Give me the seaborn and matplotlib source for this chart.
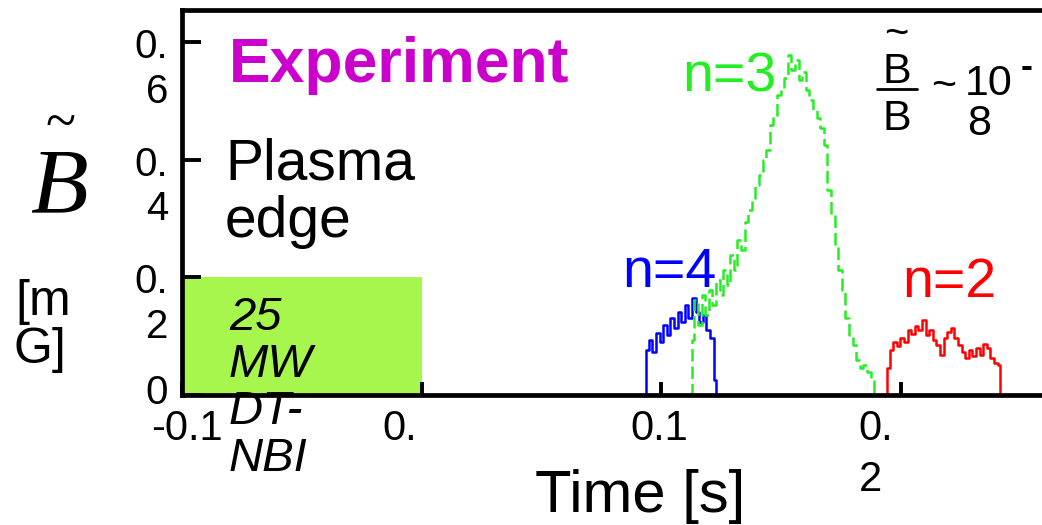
import numpy as np
import pandas as pd
import matplotlib
matplotlib.use('Agg')
import matplotlib.pyplot as plt
import matplotlib.transforms as mtrans
from matplotlib.lines import Line2D
import seaborn as sns

# ---------------- data ----------------
n4_time = [0.0935, 0.094, 0.0955, 0.097, 0.0985, 0.100, 0.1015, 0.103, 0.1045, 0.106,
           0.1075, 0.109, 0.1105, 0.112, 0.1135, 0.115, 0.1165, 0.118, 0.1195, 0.121,
           0.1225, 0.123]
n4_amp = [0.0, 0.077, 0.094, 0.073, 0.105, 0.090, 0.119, 0.102, 0.131, 0.114,
          0.141, 0.124, 0.153, 0.131, 0.165, 0.141, 0.124, 0.136, 0.111, 0.097,
          0.026, 0.0]

n3_time = [0.1125, 0.113, 0.1145, 0.116, 0.1175, 0.119, 0.1205, 0.122, 0.1235, 0.125,
           0.1265, 0.128, 0.1295, 0.131, 0.1325, 0.134, 0.1355, 0.137, 0.1385, 0.140,
           0.1415, 0.143, 0.1445, 0.146, 0.1475, 0.149, 0.1505, 0.152, 0.1535, 0.155,
           0.1565, 0.158, 0.1595, 0.161, 0.1625, 0.164, 0.1655, 0.167, 0.1685, 0.170,
           0.1715, 0.173, 0.1745, 0.176, 0.1775, 0.179, 0.1805, 0.182, 0.1835, 0.185,
           0.1865, 0.188, 0.1895]
n3_amp = [0.0, 0.094, 0.162, 0.119, 0.170, 0.136, 0.179, 0.153, 0.196, 0.170,
          0.213, 0.187, 0.238, 0.213, 0.264, 0.247, 0.294, 0.315, 0.332, 0.357,
          0.374, 0.400, 0.417, 0.459, 0.476, 0.510, 0.522, 0.539, 0.578, 0.553,
          0.570, 0.536, 0.549, 0.519, 0.502, 0.485, 0.471, 0.454, 0.425, 0.349,
          0.306, 0.255, 0.213, 0.179, 0.131, 0.102, 0.085, 0.060, 0.046, 0.051,
          0.039, 0.029, 0.0]

n2_time = [0.194, 0.1945, 0.196, 0.1975, 0.199, 0.2005, 0.202, 0.2035, 0.205, 0.2065,
           0.208, 0.2095, 0.211, 0.2125, 0.214, 0.2155, 0.217, 0.2185, 0.220, 0.2215,
           0.223, 0.2245, 0.226, 0.2275, 0.229, 0.2305, 0.232, 0.2335, 0.235, 0.2365,
           0.238, 0.2395, 0.241, 0.2415]
n2_amp = [0.0, 0.046, 0.077, 0.090, 0.083, 0.097, 0.090, 0.111, 0.104, 0.117,
          0.111, 0.128, 0.102, 0.111, 0.094, 0.085, 0.068, 0.097, 0.107, 0.114,
          0.097, 0.085, 0.073, 0.063, 0.077, 0.066, 0.080, 0.068, 0.087, 0.080,
          0.063, 0.054, 0.051, 0.0]

nbi_window = [-0.1, 0.0]
nbi_level = 0.2

x_ticks = [-0.1, 0.0, 0.1, 0.2]
x_tick_labels = ['-0.1', '0.', '0.1', '0.\n2']
y_ticks = [0.0, 0.2, 0.4, 0.6]
y_tick_labels = ['0', '0.\n2', '0.\n4', '0.\n6']

# ---------------- figure ----------------
sns.set_style('white')
plt.rcParams['font.family'] = ['Liberation Sans', 'DejaVu Sans']
plt.rcParams['text.color'] = 'black'
plt.rcParams['axes.labelcolor'] = 'black'
plt.rcParams['xtick.color'] = 'black'
plt.rcParams['ytick.color'] = 'black'

W, H = 1042, 525
fig = plt.figure(figsize=(W / 100, H / 100), dpi=100)
ax = fig.add_axes([182 / W, 1 - 395 / H, 1 - 182 / W, (395 - 10) / H])


def P(x, y):
    return x / W, 1 - y / H


ax.fill_between(nbi_window, 0, nbi_level, color='#a6f64e', lw=0, zorder=0.5)

traces = [
    (n4_time, n4_amp, '#0000ff', '-'),
    (n3_time, n3_amp, '#22ee22', (0, (5, 2))),
    (n2_time, n2_amp, '#ff0000', '-'),
]
for t, b, col, ls in traces:
    df = pd.DataFrame({'t': t, 'b': b})
    sns.lineplot(data=df, x='t', y='b', ax=ax, color=col, lw=1.8,
                 drawstyle='steps-mid', linestyle=ls)

ax.set_xlim(-0.1, 0.2588)
ax.set_ylim(0, 0.655)
ax.set_ylabel('')

for side in ['left', 'bottom', 'top']:
    ax.spines[side].set_linewidth(3.4)
    ax.spines[side].set_color('black')
ax.spines['right'].set_visible(False)

ax.set_xticks(x_ticks)
ax.set_xticklabels(x_tick_labels, fontsize=30, multialignment='left', linespacing=1.36,
                   color='black')
ax.set_yticks(y_ticks)
ax.set_yticklabels(y_tick_labels, fontsize=29, linespacing=1.22, color='black')
ax.tick_params(axis='both', which='both', direction='in', width=2.8, color='black',
               bottom=True, left=True, top=False, right=False)
ax.tick_params(axis='x', length=9.4, pad=10.0)
ax.tick_params(axis='y', length=13.7, pad=10)

for lab, dx in zip(ax.get_xticklabels(), [5, -22, -2, -25]):
    lab.set_transform(lab.get_transform() +
                      mtrans.ScaledTranslation(dx / 100, 0, fig.dpi_scale_trans))
for i, lab in enumerate(ax.get_yticklabels()):
    if i == 0:
        lab.set_va('center')
        lab.set_transform(lab.get_transform() +
                          mtrans.ScaledTranslation(0, 2 / 100, fig.dpi_scale_trans))
    else:
        lab.set_va('top')
        lab.set_transform(lab.get_transform() +
                          mtrans.ScaledTranslation(0, 14 / 100, fig.dpi_scale_trans))

ax.set_xlabel('Time [s]', fontsize=43, color='black')
ax.xaxis.set_label_coords((640 - 182) / 860, (395 - 469) / 385)

# ---------------- annotations ----------------
fig.text(*P(229, 82), 'Experiment', fontsize=45, fontweight='bold', color='#cc00cc',
         ha='left', va='baseline')
fig.text(*P(225, 180), 'Plasma', fontsize=41, ha='left', va='baseline')
fig.text(*P(225, 237), 'edge', fontsize=41, ha='left', va='baseline')

fig.text(*P(682, 92), 'n=3', fontsize=40, color='#22ee22', ha='left', va='baseline')
fig.text(*P(622, 287), 'n=4', fontsize=40, color='#0000ff', ha='left', va='baseline')
fig.text(*P(902, 297), 'n=2', fontsize=40, color='#ff0000', ha='left', va='baseline')

# y-axis label  B~ [mG]
fig.text(*P(30, 212), 'B', family='Liberation Serif', style='italic', fontsize=68,
         ha='left', va='baseline')
fig.text(*P(60, 125), '~', family='Liberation Serif', fontsize=40, ha='center', va='center')
fig.text(*P(15, 315), '[m', fontsize=36, ha='left', va='baseline')
fig.text(*P(13, 363), 'G]', fontsize=36, ha='left', va='baseline')

# NBI label
for txt, yb in zip(['25', 'MW', 'DT-', 'NBI'], [330, 377, 424, 471]):
    fig.text(*P(229, yb), txt, fontsize=34, style='italic', ha='left', va='baseline')

# formula  B~/B ~ 10^-8
fig.text(*P(896, 35), '~', fontsize=30, ha='center', va='center')
fig.text(*P(882, 83), 'B', fontsize=31, ha='left', va='baseline')
fig.add_artist(Line2D([877 / W, 917 / W], [1 - 89 / H, 1 - 89 / H], color='black', lw=2,
                      transform=fig.transFigure))
fig.text(*P(882, 130), 'B', fontsize=31, ha='left', va='baseline')
fig.text(*P(944, 87), '~', fontsize=31, ha='center', va='center')
fig.text(*P(965, 95), '10', fontsize=31, ha='left', va='baseline')
fig.text(*P(1027, 68), '-', fontsize=26, fontweight='bold', ha='center', va='center')
fig.text(*P(967, 135), '8', fontsize=31, ha='left', va='baseline')

fig.savefig('out.png', dpi=100)
